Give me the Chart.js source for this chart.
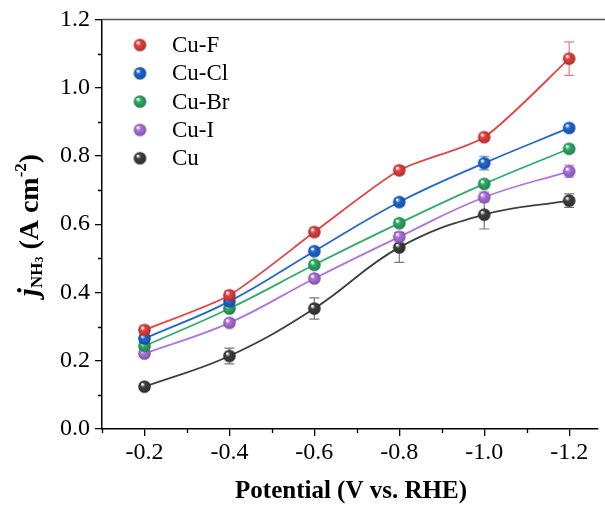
<!DOCTYPE html>
<html>
<head>
<meta charset="utf-8">
<script src="https://cdn.jsdelivr.net/npm/chart.js@4.4.1/dist/chart.umd.min.js"></script>
<style>
    html, body { margin: 0; padding: 0; background: #fff; }
    #wrap { width: 605px; height: 510px; }
</style>
</head>
<body>
<div id="wrap"><canvas id="chart" width="605" height="510"></canvas></div>
<script>
// Data
const potentials = [-0.2, -0.4, -0.6, -0.8, -1.0, -1.2];
const xTicks = [-0.2, -0.4, -0.6, -0.8, -1.0, -1.2];
const yTicks = [0.0, 0.2, 0.4, 0.6, 0.8, 1.0, 1.2];

const seriesNames = ['Cu-F', 'Cu-Cl', 'Cu-Br', 'Cu-I', 'Cu'];
const seriesColors = ['#e84242', '#1f68d6', '#2fae6a', '#b073e2', '#3f3f3f'];

const cuF = [0.290, 0.392, 0.577, 0.758, 0.855, 1.085];
const cuCl = [0.265, 0.374, 0.521, 0.665, 0.779, 0.882];
const cuBr = [0.243, 0.353, 0.481, 0.603, 0.718, 0.821];
const cuI = [0.221, 0.311, 0.441, 0.563, 0.679, 0.755];
const cu = [0.124, 0.214, 0.353, 0.532, 0.628, 0.669];

const errF = [0.012, 0.012, 0.012, 0.012, 0.010, 0.049];
const errCl = [0.010, 0.010, 0.010, 0.010, 0.020, 0.010];
const errBr = [0.010, 0.010, 0.010, 0.010, 0.010, 0.010];
const errI = [0.010, 0.010, 0.010, 0.012, 0.015, 0.018];
const errCu = [0.008, 0.023, 0.031, 0.044, 0.042, 0.020];

const allValues = [cuF, cuCl, cuBr, cuI, cu];
const allErrors = [errF, errCl, errBr, errI, errCu];
const tensions = [0.22, 0.4, 0.4, 0.4, 0.4];

const SERIF = "'Liberation Serif', 'Times New Roman', serif";

// Shaded ball used as marker
function makeBall(color, r) {
    const size = Math.ceil(r * 2 + 2);
    const c = document.createElement('canvas');
    c.width = size;
    c.height = size;
    const ctx = c.getContext('2d');
    const cx = size / 2, cy = size / 2;
    const g = ctx.createRadialGradient(cx - r * 0.35, cy - r * 0.4, r * 0.1, cx, cy, r);
    g.addColorStop(0, '#ffffff');
    g.addColorStop(0.3, color);
    g.addColorStop(1, shade(color, 0.72));
    ctx.fillStyle = g;
    ctx.beginPath();
    ctx.arc(cx, cy, r, 0, Math.PI * 2);
    ctx.fill();
    return c;
}

function shade(hex, f) {
    const n = parseInt(hex.slice(1), 16);
    const r = Math.round(((n >> 16) & 255) * f);
    const g = Math.round(((n >> 8) & 255) * f);
    const b = Math.round((n & 255) * f);
    return `rgb(${r},${g},${b})`;
}

function withAlpha(hex, a) {
    const n = parseInt(hex.slice(1), 16);
    return `rgba(${(n >> 16) & 255},${(n >> 8) & 255},${n & 255},${a})`;
}

const balls = seriesColors.map(c => makeBall(c, 6.3));

// Error bars
const errorBarPlugin = {
    id: 'errorBars',
    beforeDatasetsDraw(chart) {
        const ctx = chart.ctx;
        const xs = chart.scales.x, ys = chart.scales.y;
        ctx.save();
        chart.data.datasets.forEach((ds, i) => {
            const errs = allErrors[i];
            ctx.strokeStyle = withAlpha(seriesColors[i], 0.7);
            ctx.lineWidth = 1.2;
            ds.data.forEach((p, j) => {
                const x = xs.getPixelForValue(p.x);
                const yTop = ys.getPixelForValue(p.y + errs[j]);
                const yBot = ys.getPixelForValue(p.y - errs[j]);
                ctx.beginPath();
                ctx.moveTo(x, yTop); ctx.lineTo(x, yBot);
                ctx.moveTo(x - 5, yTop); ctx.lineTo(x + 5, yTop);
                ctx.moveTo(x - 5, yBot); ctx.lineTo(x + 5, yBot);
                ctx.stroke();
            });
        });
        ctx.restore();
    }
};

// Axes frame, minor ticks, legend and titles
const decorPlugin = {
    id: 'decor',
    afterDraw(chart) {
        const ctx = chart.ctx;
        const area = chart.chartArea;
        const xs = chart.scales.x, ys = chart.scales.y;
        ctx.save();

        // top frame line
        ctx.strokeStyle = '#555';
        ctx.lineWidth = 1.5;
        ctx.beginPath();
        ctx.moveTo(area.left, area.top);
        ctx.lineTo(chart.width, area.top);
        ctx.stroke();

        // minor ticks
        ctx.strokeStyle = '#000';
        ctx.lineWidth = 1.3;
        ctx.beginPath();
        for (let v = 0.1; v < 1.2; v += 0.2) {
            const y = Math.round(ys.getPixelForValue(v)) + 0.5;
            ctx.moveTo(area.left, y); ctx.lineTo(area.left - 4, y);
        }
        for (let v = -0.1; v > -1.3; v -= 0.2) {
            const x = Math.round(xs.getPixelForValue(v)) + 0.5;
            if (x > area.right) continue;
            ctx.moveTo(x, area.bottom); ctx.lineTo(x, area.bottom + 4);
        }
        ctx.stroke();

        // legend
        ctx.font = `23px ${SERIF}`;
        ctx.fillStyle = '#000';
        ctx.textBaseline = 'middle';
        ctx.textAlign = 'left';
        seriesNames.forEach((name, i) => {
            const y = 45 + i * 28.3;
            const b = balls[i];
            ctx.drawImage(b, 140 - b.width / 2, y - b.height / 2);
            ctx.fillText(name, 172, y + 1);
        });

        // x title
        ctx.font = `bold 25px ${SERIF}`;
        ctx.textAlign = 'center';
        ctx.fillText('Potential (V vs. RHE)', 351, 492);

        // y title with sub/superscripts
        const parts = [
            { t: 'j', f: `italic bold 29px ${SERIF}`, dy: 0 },
            { t: 'NH', f: `bold 17px ${SERIF}`, dy: 7 },
            { t: '3', f: `bold 12px ${SERIF}`, dy: 9 },
            { t: ' (A cm', f: `bold 28px ${SERIF}`, dy: 0 },
            { t: '-2', f: `bold 17px ${SERIF}`, dy: -9 },
            { t: ')', f: `bold 28px ${SERIF}`, dy: 0 }
        ];
        let total = 0;
        parts.forEach(p => { ctx.font = p.f; p.w = ctx.measureText(p.t).width; total += p.w; });
        ctx.translate(31, 225);
        ctx.rotate(-Math.PI / 2);
        ctx.textAlign = 'left';
        let cx = -total / 2;
        parts.forEach(p => {
            ctx.font = p.f;
            ctx.fillText(p.t, cx, p.dy);
            cx += p.w;
        });
        ctx.restore();
    }
};

const datasets = seriesNames.map((name, i) => ({
    label: name,
    data: potentials.map((x, j) => ({ x: x, y: allValues[i][j] })),
    borderColor: seriesColors[i],
    borderWidth: 1.8,
    tension: tensions[i],
    pointStyle: balls[i],
    pointRadius: 6,
    fill: false
}));

new Chart(document.getElementById('chart'), {
    type: 'line',
    data: { datasets: datasets },
    options: {
        responsive: false,
        animation: false,
        layout: { padding: { top: 19, right: 1, left: 0, bottom: 0 } },
        plugins: {
            legend: { display: false },
            tooltip: { enabled: false }
        },
        scales: {
            x: {
                type: 'linear',
                reverse: true,
                min: -1.266,
                max: -0.1,
                afterBuildTicks: (scale) => { scale.ticks = xTicks.map(v => ({ value: v })); },
                afterFit: (scale) => { scale.height = 81; },
                grid: { display: true, drawOnChartArea: false, drawTicks: true, tickLength: 7, color: '#000', lineWidth: 1.3 },
                border: { display: true, color: '#000', width: 1.5 },
                ticks: {
                    padding: 2,
                    color: '#000',
                    font: { family: SERIF, size: 24 },
                    callback: (v) => v.toFixed(1)
                }
            },
            y: {
                min: 0,
                max: 1.2,
                afterBuildTicks: (scale) => { scale.ticks = yTicks.map(v => ({ value: v })); },
                afterFit: (scale) => { scale.width = 102; },
                grid: { display: true, drawOnChartArea: false, drawTicks: true, tickLength: 7, color: '#000', lineWidth: 1.3 },
                border: { display: true, color: '#000', width: 1.5 },
                ticks: {
                    padding: 5,
                    color: '#000',
                    font: { family: SERIF, size: 24 },
                    callback: (v) => v.toFixed(1)
                }
            }
        }
    },
    plugins: [errorBarPlugin, decorPlugin]
});
</script>
</body>
</html>
